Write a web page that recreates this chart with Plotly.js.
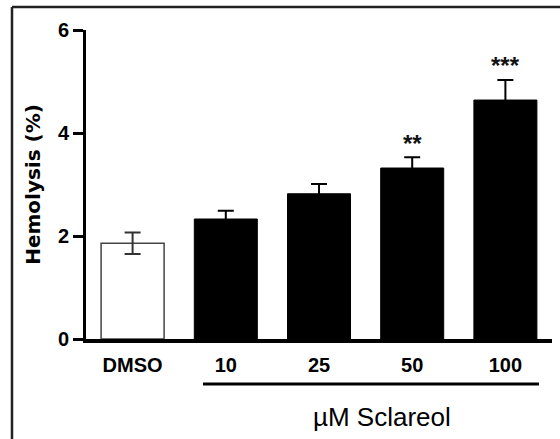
<!DOCTYPE html>
<html>
<head>
<meta charset="utf-8">
<script src="https://cdn.plot.ly/plotly-3.0.1.min.js"></script>
<style>html,body{margin:0;padding:0;background:#fff;}#chart{width:560px;height:439px;}</style>
</head>
<body>
<div id="chart"></div>
<script>
// Data
const categories = ['DMSO', '10', '25', '50', '100'];
const means = [1.86, 2.33, 2.82, 3.32, 4.64];
const errors = [0.21, 0.16, 0.19, 0.21, 0.39];
const significance = ['', '', '', '**', '***'];
const yTicks = [0, 2, 4, 6];
const xTitle = 'µM Sclareol';
const yTitle = 'Hemolysis (%)';

const controlTrace = {
  type: 'bar',
  x: categories.slice(0, 1),
  y: means.slice(0, 1),
  marker: {color: '#ffffff', line: {color: '#444444', width: 1.5}},
  error_y: {type: 'data', array: errors.slice(0, 1), visible: true, color: '#333', thickness: 2, width: 8},
  hoverinfo: 'x+y'
};
const treatedTrace = {
  type: 'bar',
  x: categories.slice(1),
  y: means.slice(1),
  marker: {color: '#000000', line: {color: '#000000', width: 1}},
  error_y: {type: 'data', array: errors.slice(1), visible: true, color: '#000', thickness: 2, width: 8},
  hoverinfo: 'x+y'
};

const sigAnnotations = categories.map((c, i) => ({
  x: i, y: means[i] + errors[i], xref: 'x', yref: 'y',
  text: significance[i], showarrow: false, yanchor: 'middle', yshift: 14,
  font: {family: 'Liberation Sans, Arial, sans-serif', size: 24, color: '#111', weight: 'bold'}
})).filter(a => a.text);

const layout = {
  width: 560, height: 439,
  margin: {l: 86, r: 8, t: 30, b: 100},
  paper_bgcolor: '#fff', plot_bgcolor: '#fff',
  showlegend: false,
  barmode: 'overlay',
  bargap: 0.324,
  font: {family: 'Liberation Sans, Arial, sans-serif', color: '#000'},
  xaxis: {
    type: 'category', categoryorder: 'array', categoryarray: categories, range: [-0.5, 4.5],
    showline: true, linewidth: 4, linecolor: '#000',
    ticks: 'outside', ticklen: 5, tickcolor: 'rgba(0,0,0,0)',
    tickfont: {size: 20, weight: 'bold', color: '#000'},
    showgrid: false, zeroline: false, fixedrange: true
  },
  yaxis: {
    range: [0, 6], tickvals: yTicks, ticktext: yTicks.map(String),
    showline: true, linewidth: 3, linecolor: '#000',
    ticks: 'outside', ticklen: 10, tickwidth: 3, tickcolor: '#000',
    tickfont: {size: 20, weight: 'bold', color: '#000'},
    showgrid: false, zeroline: false, fixedrange: true,
    title: {text: yTitle, standoff: 12, font: {family: 'DejaVu Sans, sans-serif', size: 20, weight: 'bold', color: '#000'}}
  },
  annotations: sigAnnotations.concat([
    {xref: 'paper', yref: 'paper', x: 0.635, y: -0.252, xanchor: 'center', yanchor: 'middle',
     text: xTitle, showarrow: false, font: {family: 'Liberation Sans, Arial, sans-serif', size: 26, color: '#000'}}
  ]),
  shapes: [
    {type: 'line', xref: 'paper', yref: 'paper', x0: 0.251, x1: 0.972, y0: -0.146, y1: -0.146, line: {color: '#000', width: 3}},
    {type: 'line', xref: 'paper', yref: 'paper', x0: -0.1588, x1: 1.02, y0: 1.0744, y1: 1.0744, line: {color: '#222', width: 2.5}},
    {type: 'line', xref: 'paper', yref: 'paper', x0: -0.1588, x1: -0.1588, y0: 1.0744, y1: -0.33, line: {color: '#222', width: 2.5}}
  ]
};

Plotly.newPlot('chart', [controlTrace, treatedTrace], layout, {displayModeBar: false, staticPlot: true});
</script>
</body>
</html>
